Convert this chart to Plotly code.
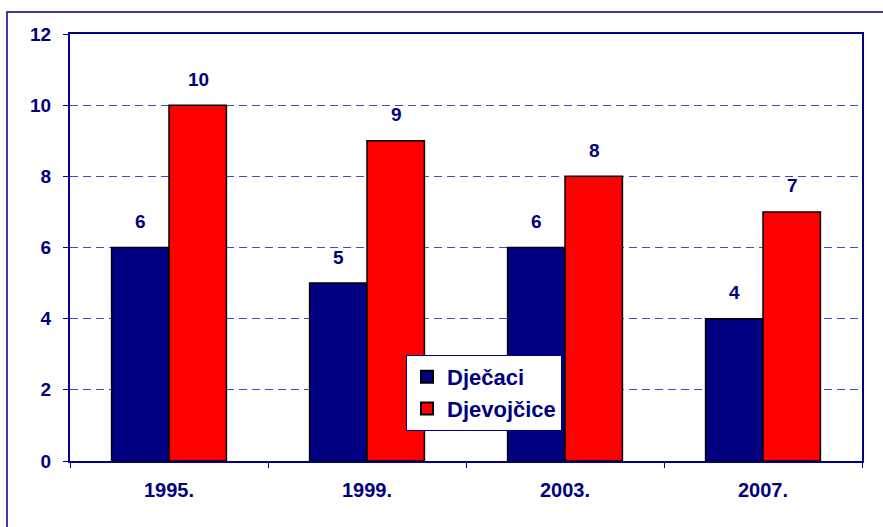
import plotly.graph_objects as go

years = ["1995.", "1999.", "2003.", "2007."]
djecaci = [6, 5, 6, 4]
djevojcice = [10, 9, 8, 7]

NAVY = "#000080"
FONT = "Liberation Sans"

fig = go.Figure()
fig.add_trace(go.Bar(name="<b>Dječaci</b>", x=years, y=djecaci, marker=dict(color=NAVY, line=dict(color="black", width=1.5))))
fig.add_trace(go.Bar(name="<b>Djevojčice</b>", x=years, y=djevojcice, marker=dict(color="#FF0000", line=dict(color="black", width=1.5))))

ann = []
for i, (a, b) in enumerate(zip(djecaci, djevojcice)):
    ann.append(dict(x=i, y=a, xref="x", yref="y", text=f"<b>{a}</b>", showarrow=False,
                    xshift=-29, yshift=26, font=dict(family=FONT, size=19, color=NAVY)))
    ann.append(dict(x=i, y=b, xref="x", yref="y", text=f"<b>{b}</b>", showarrow=False,
                    xshift=29, yshift=26, font=dict(family=FONT, size=19, color=NAVY)))

fig.update_layout(
    width=883, height=527,
    margin=dict(l=70, r=21, t=34, b=66, autoexpand=False),
    paper_bgcolor="white", plot_bgcolor="white",
    barmode="group", bargap=0.42, bargroupgap=0,
    font=dict(family=FONT, color=NAVY),
    annotations=ann,
    showlegend=True,
    legend=dict(x=(406 - 70) / 792, y=(461 - 355) / 427, xanchor="left", yanchor="top",
                bgcolor="white", bordercolor=NAVY, borderwidth=1,
                font=dict(family=FONT, size=22, color=NAVY),
                itemsizing="constant", tracegroupgap=8),
    shapes=[dict(type="rect", xref="paper", yref="paper",
                 x0=(7 - 70) / 792, x1=1.05, y0=-0.3, y1=1 + (34 - 12) / 427,
                 line=dict(color=NAVY, width=1.5), fillcolor="rgba(0,0,0,0)", layer="below")],
)
fig.update_xaxes(type="category", range=[-0.5, 3.5], showline=True, linecolor=NAVY, linewidth=2, mirror=True,
                 ticks="outside", tickson="boundaries", ticklen=5, tickcolor=NAVY,
                 automargin=False, tickangle=0, ticklabelstandoff=10,
                 tickfont=dict(family=FONT, size=20, color=NAVY, weight="bold"))
fig.update_yaxes(range=[0, 12], dtick=2, showline=True, linecolor=NAVY, linewidth=2, mirror=True,
                 ticks="outside", ticklen=5, tickcolor=NAVY, automargin=False, ticklabelstandoff=8,
                 showgrid=True, gridcolor="#4a4ab8", griddash="8px,5px", gridwidth=1,
                 zeroline=False,
                 tickfont=dict(family=FONT, size=19, color=NAVY, weight="bold"))

fig.write_html("out.html", config={"displayModeBar": False},
               post_script="document.body.style.margin='0';")
